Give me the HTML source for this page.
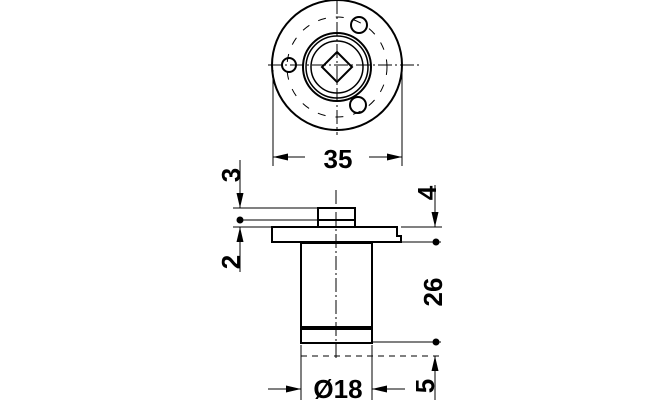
<!DOCTYPE html>
<html><head><style>body{margin:0;background:#fff}svg{display:block}</style></head><body>
<svg width="660" height="400" viewBox="0 0 660 400" xmlns="http://www.w3.org/2000/svg" font-family="Liberation Sans, sans-serif" font-weight="bold">
<defs><marker id="a" viewBox="0 0 15 7" refX="15" refY="3.5" markerWidth="15" markerHeight="7" orient="auto" markerUnits="userSpaceOnUse"><path d="M0 0L15 3.5L0 7z" fill="#000"/></marker></defs>
<g fill="none" stroke="#000" stroke-width="2">
<circle cx="337" cy="65" r="65"/>
<circle cx="337" cy="67" r="34"/>
<circle cx="337" cy="67" r="31" stroke-width="1.5"/>
<circle cx="337" cy="67" r="26" stroke-width="1.5"/>
<path d="M337 52L352 67L337 82L322 67Z"/>
<circle cx="289" cy="65" r="7"/>
<circle cx="359" cy="25" r="8"/>
<circle cx="358" cy="105" r="8"/>
<circle cx="337" cy="67" r="50" stroke-width="1" stroke-dasharray="8,10"/>
</g>
<g stroke="#000" stroke-width="1">
<line x1="337" y1="0" x2="337" y2="135" stroke-dasharray="14,3,2,3"/>
<line x1="268" y1="65" x2="420" y2="65" stroke-dasharray="14,3,2,3"/>
<line x1="273" y1="70" x2="273" y2="166"/><line x1="402" y1="70" x2="402" y2="166"/>
<line x1="305" y1="157" x2="273" y2="157" marker-end="url(#a)"/>
<line x1="369" y1="157" x2="402" y2="157" marker-end="url(#a)"/>
</g>
<text x="338" y="168" font-size="26" text-anchor="middle">35</text>
<g fill="#fff" stroke="#000" stroke-width="2">
<rect x="318" y="208" width="37" height="19"/>
<path d="M272 227H397V236H401V242H272Z"/>
<rect x="301" y="243" width="71" height="84"/>
<rect x="301" y="327" width="71" height="16"/>
</g>
<rect x="301" y="326" width="71" height="4" fill="#000"/>
<g stroke="#000" stroke-width="1">
<line x1="318" y1="220" x2="355" y2="220" stroke-width="2"/>
<line x1="336" y1="190" x2="336" y2="360" stroke-dasharray="14,3,2,3"/>
<line x1="233" y1="208" x2="318" y2="208"/>
<line x1="240" y1="220" x2="318" y2="220"/>
<line x1="233" y1="227" x2="272" y2="227"/>
<line x1="401" y1="227" x2="442" y2="227"/>
<line x1="401" y1="242" x2="441" y2="242"/>
<line x1="372" y1="342" x2="441" y2="342"/>
<line x1="240" y1="160" x2="240" y2="208" marker-end="url(#a)"/>
<line x1="240" y1="272" x2="240" y2="227" marker-end="url(#a)"/>
<line x1="435" y1="185" x2="435" y2="227" marker-end="url(#a)"/>
<line x1="435" y1="400" x2="435" y2="356" marker-end="url(#a)"/>
<line x1="301" y1="356" x2="441" y2="356" stroke-dasharray="6,5"/>
<line x1="301" y1="345" x2="301" y2="400"/><line x1="372" y1="345" x2="372" y2="400"/>
<line x1="268" y1="389" x2="301" y2="389" marker-end="url(#a)"/>
<line x1="405" y1="389" x2="372" y2="389" marker-end="url(#a)"/>
</g>
<g fill="#000"><circle cx="240" cy="220" r="3.5"/><circle cx="436" cy="242" r="3.5"/><circle cx="436" cy="342" r="3.5"/></g>
<text x="338" y="398" font-size="26" text-anchor="middle">Ø18</text>
<g font-size="26" text-anchor="middle">
<text transform="translate(240,175) rotate(-90)">3</text>
<text transform="translate(240,262) rotate(-90)">2</text>
<text transform="translate(436,193) rotate(-90)">4</text>
<text transform="translate(442,292) rotate(-90)">26</text>
<text transform="translate(434,386) rotate(-90)">5</text>
</g>
</svg>
</body></html>
